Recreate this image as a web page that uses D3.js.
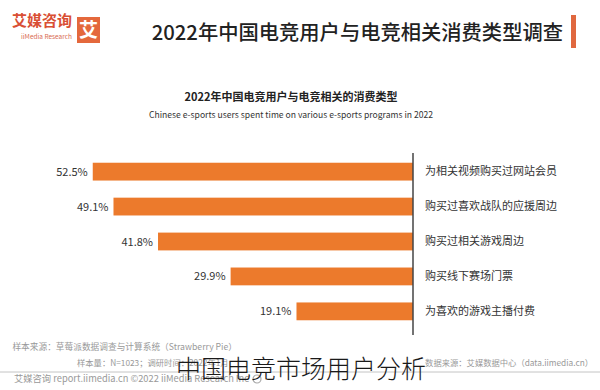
<!DOCTYPE html>
<html><head><meta charset="utf-8">
<script src="https://cdn.jsdelivr.net/npm/d3@7"></script>
<style>body{margin:0;background:#fff}svg{display:block}text{font-family:"Noto Sans CJK SC","Noto Sans",sans-serif}</style>
</head><body>
<script>
const categories = ["为相关视频购买过网站会员","购买过喜欢战队的应援周边","购买过相关游戏周边","购买线下赛场门票","为喜欢的游戏主播付费"];
const values = [52.5, 49.1, 41.8, 29.9, 19.1];
const valueLabels = ["52.5%","49.1%","41.8%","29.9%","19.1%"];
const headerTitle = "2022年中国电竞用户与电竞相关消费类型调查";
const chartTitle = "2022年中国电竞用户与电竞相关的消费类型";
const chartSubtitle = "Chinese e-sports users spent time on various e-sports programs in 2022";
const notes = ["样本来源：草莓派数据调查与计算系统（Strawberry Pie）","数据来源：艾媒数据中心（data.iimedia.cn）","样本量：N=1023；调研时间：2022年1月","艾媒咨询 report.iimedia.cn   ©2022  iiMedia Research Inc"];
const caption = "中国电竞市场用户分析";

const W = 600, H = 390;
const svg = d3.select("body").append("svg").attr("width", W).attr("height", H);

// header
svg.append("rect").attr("x", 571).attr("y", 15).attr("width", 5).attr("height", 33).attr("fill", "#e0683f");
svg.append("text").attr("x", 563).attr("y", 40).attr("text-anchor", "end").attr("font-size", 20.3).attr("font-weight", 500).attr("fill", "#222").text(headerTitle);
// logo
svg.append("rect").attr("x", 77).attr("y", 17).attr("width", 23).attr("height", 26).attr("fill", "#e4683c");
svg.append("text").attr("x", 88.5).attr("y", 37).attr("text-anchor", "middle").attr("font-size", 19).attr("font-weight", 700).attr("fill", "#fff").text("艾");
svg.append("text").attr("x", 72).attr("y", 26).attr("text-anchor", "end").attr("font-size", 15).attr("font-weight", 700).attr("fill", "#d94f34").text("艾媒咨询");
svg.append("text").attr("x", 72).attr("y", 39).attr("text-anchor", "end").attr("font-size", 6.5).attr("fill", "#d96a50").text("iiMedia Research");

// chart titles
svg.append("text").attr("x", 291).attr("y", 101).attr("text-anchor", "middle").attr("font-size", 11).attr("font-weight", 700).attr("fill", "#222").text(chartTitle);
svg.append("text").attr("x", 291).attr("y", 118).attr("text-anchor", "middle").attr("font-size", 8.6).attr("fill", "#333").text(chartSubtitle);

// scales
const axisX = 413;
const x = d3.scaleLinear().domain([0, 60]).range([axisX, axisX - 366]);
const y = d3.scaleBand().domain(categories).range([154, 329]).paddingInner(0.49).paddingOuter(0.25);

svg.append("g").selectAll("rect").data(categories).join("rect")
  .attr("x", (d, i) => x(values[i]))
  .attr("y", d => y(d))
  .attr("width", (d, i) => x(0) - x(values[i]))
  .attr("height", y.bandwidth())
  .attr("fill", "#ec7a2c");

svg.append("g").selectAll("text").data(categories).join("text")
  .attr("x", (d, i) => x(values[i]) - 5)
  .attr("y", d => y(d) + y.bandwidth() / 2 + 4)
  .attr("text-anchor", "end").attr("font-size", 11).attr("fill", "#333")
  .text((d, i) => valueLabels[i]);

const axis = d3.axisRight(y).tickSize(0).tickPadding(12);
const ag = svg.append("g").attr("transform", `translate(${axisX},0)`).call(axis);
ag.select(".domain").remove();
ag.selectAll("text").attr("font-size", 11).attr("fill", "#333").style("font-family", '"Noto Sans CJK SC",sans-serif');
svg.append("line").attr("x1", axisX).attr("x2", axisX).attr("y1", 153).attr("y2", 335).attr("stroke", "#444").attr("stroke-width", 1.5);

// notes
const noteColor = "#999";
svg.append("text").attr("x", 237).attr("y", 350).attr("text-anchor", "end").attr("font-size", 8.7).attr("fill", noteColor).text(notes[0]);
svg.append("text").attr("x", 593).attr("y", 366).attr("text-anchor", "end").attr("font-size", 8.3).attr("fill", noteColor).text(notes[1]);
svg.append("text").attr("x", 77).attr("y", 366).attr("text-anchor", "start").attr("font-size", 8.3).attr("fill", noteColor).text(notes[2]);
svg.append("line").attr("x1", 0).attr("x2", 600).attr("y1", 372).attr("y2", 372).attr("stroke", "#c4c4c4").attr("stroke-width", 1);
svg.append("circle").attr("cx", 257).attr("cy", 379).attr("r", 4).attr("fill", "none").attr("stroke", "#aaa").attr("stroke-width", 1.2);
svg.append("text").attr("x", 249).attr("y", 382).attr("text-anchor", "end").attr("font-size", 9.3).attr("fill", noteColor).text(notes[3]);

// caption overlay
svg.append("text").attr("x", 301).attr("y", 378).attr("text-anchor", "middle").attr("font-size", 25).attr("font-weight", 300).attr("fill", "#1a1a1a").text(caption);
</script>
</body></html>
